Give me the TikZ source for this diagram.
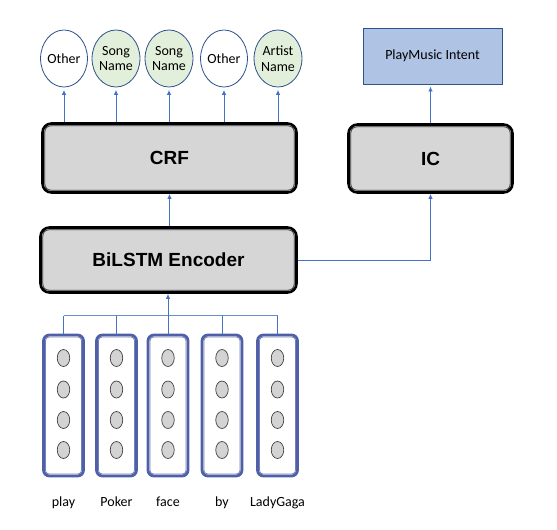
\documentclass[tikz,border=0pt]{standalone}
\usepackage{fontspec}
\setmainfont{Carlito}
\newfontfamily\arialb[BoldFont={Liberation Sans Bold}]{Liberation Sans}
\usetikzlibrary{calc,arrows.meta,shapes.geometric,backgrounds}
\definecolor{arrowblue}{HTML}{4472C4}
\definecolor{ellborder}{HTML}{2F528F}
\definecolor{greenfill}{HTML}{E2EFDA}
\definecolor{boxgray}{HTML}{D6D6D6}
\definecolor{intentfill}{HTML}{AFC3E5}
\definecolor{colblue}{HTML}{5060A8}
\definecolor{circgray}{HTML}{D3D3D3}
\tikzset{
  lbl/.style={font=\fontsize{14}{15.5}\selectfont, align=center},
  tag/.style={shape=ellipse, draw=ellborder, line width=0.8pt, fill=white, minimum width=46pt, minimum height=57pt, inner sep=0pt, lbl},
  greentag/.style={tag, fill=greenfill},
  layerbox/.style={draw=black, line width=2.6pt, rounded corners=9pt, inner sep=0pt, font=\arialb\bfseries\fontsize{19}{22}\selectfont},
  innerline/.style={draw=black!85, fill=boxgray, line width=0.8pt, rounded corners=6pt},
  conn/.style={draw=arrowblue, line width=0.9pt},
  arr/.style={conn, -{Latex[length=5pt,width=4.5pt]}},
  wordcol/.style={draw=colblue, line width=2.8pt, rounded corners=6pt, minimum width=40pt, minimum height=141pt, inner sep=0pt},
  colinner/.style={draw=colblue!80, line width=0.8pt, rounded corners=3.5pt},
  unit/.style={shape=ellipse, draw=black!75, line width=0.7pt, fill=circgray, minimum width=12.5pt, minimum height=17pt, inner sep=0pt},
  intent/.style={draw=ellborder, line width=0.9pt, fill=intentfill, minimum width=139pt, minimum height=56pt, lbl}
}
\begin{document}
\begin{tikzpicture}[x=1pt,y=-1pt]
\useasboundingbox (0,0) rectangle (557,530);
% output tags
\node[tag] (t1) at (64,58.5) {Other};
\node[greentag] (t2) at (116,58.5) {Song\\Name};
\node[greentag] (t3) at (169,58.5) {Song\\Name};
\node[tag] (t4) at (224,58.5) {Other};
\node[greentag] (t5) at (278,58.5) {Artist\\Name};
\node[intent] (pi) at (432.5,56) {PlayMusic Intent};
% layer boxes
\node[layerbox, minimum width=254pt, minimum height=69pt] (crf) at (169.5,158) {CRF};
\node[layerbox, minimum width=164pt, minimum height=68pt] (ic) at (430.5,158.5) {IC};
\node[layerbox, minimum width=256pt, minimum height=65pt] (enc) at (168.5,260) {BiLSTM Encoder};
\begin{scope}[on background layer]
\foreach \b in {crf,ic,enc}{
  \fill[white, rounded corners=9pt] (\b.north west) rectangle (\b.south east);
  \draw[innerline] ($(\b.north west)+(3.6,3.6)$) rectangle ($(\b.south east)+(-3.6,-3.6)$);
}
\end{scope}
% word columns
\foreach \i/\x/\w in {1/63.5/play,2/116.5/Poker,3/168/face,4/222/by,5/277.5/LadyGaga}{
  \node[wordcol] (c\i) at (\x,405.5) {};
  \draw[colinner] ($(c\i.north west)+(3.4,3.4)$) rectangle ($(c\i.south east)+(-3.4,-3.4)$);
  \foreach \j/\y in {1/358,2/389.5,3/420,4/450}{
    \node[unit] (u\i\j) at (\x,\y) {};
  }
  \node[lbl, anchor=base] (w\i) at (\x,506) {\w};
}
% connectors
\foreach \i in {1,...,5}{
  \draw[arr, shorten >=2.5pt] (t\i.south |- crf.north) -- (t\i.south);
}
\draw[arr] (enc.north -| crf.south) -- (crf.south);
\draw[arr, shorten >=2pt] (ic.north) -- (ic.north |- pi.south);
\draw[arr] (enc.east) -| (ic.south);
\coordinate (busL) at (c1.north |- 0,315.5);
\coordinate (busR) at (c5.north |- 0,315.5);
\draw[conn, draw=arrowblue!80] (busL) -- (busR);
\foreach \i in {1,2,4,5}{
  \draw[conn] (c\i.north) -- (c\i.north |- busL);
}
\draw[arr] (c3.north) -- (c3.north |- enc.south);
\end{tikzpicture}
\end{document}
